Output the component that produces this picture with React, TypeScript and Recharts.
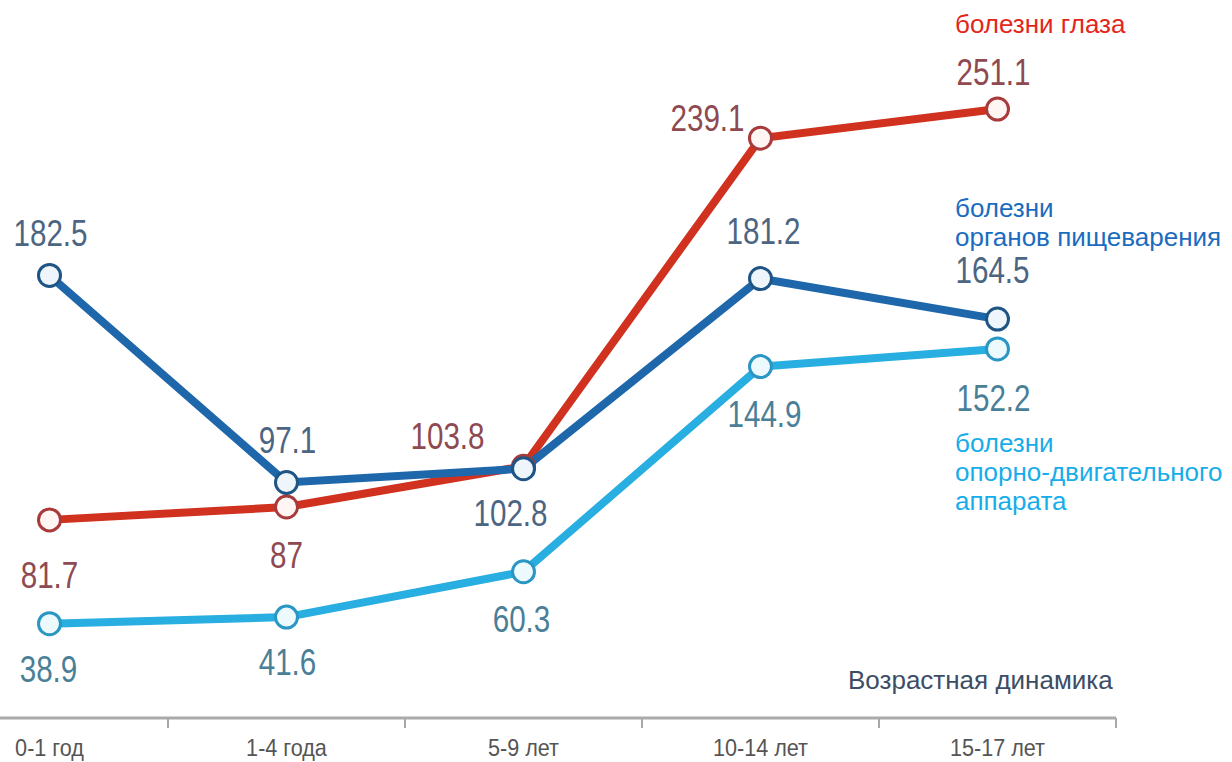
import { LineChart, Line, XAxis, YAxis, LabelList } from "recharts";

const AGE_GROUPS = ["0-1 год", "1-4 года", "5-9 лет", "10-14 лет", "15-17 лет"];
const EYE = [81.7, 87, 103.8, 239.1, 251.1];
const DIGESTIVE = [182.5, 97.1, 102.8, 181.2, 164.5];
const MUSCULO = [38.9, 41.6, 60.3, 144.9, 152.2];

// label offsets from the marker, [dx, dy] per point
const EYE_LABEL_POS = [[0, 55], [0, 48], [-76, -30], [-53, -20], [-4, -37]];
const DIGESTIVE_LABEL_POS = [[1, -42], [1, -42], [-13, 45], [3, -47], [-5, -49]];
const MUSCULO_LABEL_POS = [[-1, 46], [1, 45], [-2, 48], [4, 48], [-4, 49]];

const data = AGE_GROUPS.map((age, i) => ({
  age,
  eye: EYE[i],
  digestive: DIGESTIVE[i],
  musculo: MUSCULO[i],
}));

const FONT = '"Liberation Sans", Arial, sans-serif';
const BAND = 237;

// numbers in the original are set in a condensed face, so squeeze them
function makeLabel(offsets: number[][], color: string) {
  return (props: any) => {
    const { x, y, value, index } = props;
    const [dx, dy] = offsets[index] ?? [0, -40];
    return (
      <text
        transform={`translate(${x + dx},${y + dy}) scale(0.8,1)`}
        textAnchor="middle"
        dominantBaseline="central"
        fill={color}
        fontSize={37}
        fontFamily={FONT}
      >
        {value}
      </text>
    );
  };
}

function AgeTick(props: any) {
  const { x, y, payload } = props;
  return (
    <g>
      <line x1={x + BAND / 2} x2={x + BAND / 2} y1={y} y2={y + 10} stroke="#a8a8a8" strokeWidth={2} />
      <text
        transform={`translate(${x},${y + 30}) scale(0.9,1)`}
        textAnchor="middle"
        dominantBaseline="central"
        fill="#555"
        fontSize={24}
        fontFamily={FONT}
      >
        {payload.value}
      </text>
    </g>
  );
}

const nameStyle = {
  position: "absolute" as const,
  left: 955,
  fontFamily: FONT,
  fontSize: 26,
  lineHeight: "29px",
  whiteSpace: "nowrap" as const,
};

export default function App() {
  return (
    <div style={{ position: "fixed", left: 0, top: 0, width: 1232, height: 762, overflow: "hidden", background: "#fff" }}>
      <div style={{ position: "absolute", left: -69, top: 0 }}>
        <LineChart width={1301} height={762} data={data} margin={{ top: 39, right: 116, bottom: 0, left: 0 }}>
          <XAxis
            dataKey="age"
            scale="band"
            height={44}
            tickLine={false}
            tickSize={0}
            tickMargin={0}
            axisLine={{ stroke: "#aaaaaa", strokeWidth: 3 }}
            tick={<AgeTick />}
            interval={0}
          />
          <YAxis hide domain={[0, 280]} />
          <Line
            dataKey="eye"
            stroke="#d0321f"
            strokeWidth={8}
            dot={{ r: 11, fill: "#fff5f3", stroke: "#a83a3c", strokeWidth: 3 }}
            isAnimationActive={false}
          >
            <LabelList dataKey="eye" content={makeLabel(EYE_LABEL_POS, "#8e4a50")} />
          </Line>
          <Line
            dataKey="musculo"
            stroke="#28aee0"
            strokeWidth={8}
            dot={{ r: 11, fill: "#ecfafd", stroke: "#2a96c4", strokeWidth: 3 }}
            isAnimationActive={false}
          >
            <LabelList dataKey="musculo" content={makeLabel(MUSCULO_LABEL_POS, "#4a7f98")} />
          </Line>
          <Line
            dataKey="digestive"
            stroke="#1e67aa"
            strokeWidth={8}
            dot={{ r: 11, fill: "#eef6fb", stroke: "#1f5585", strokeWidth: 3 }}
            isAnimationActive={false}
          >
            <LabelList dataKey="digestive" content={makeLabel(DIGESTIVE_LABEL_POS, "#4c6582")} />
          </Line>
        </LineChart>
      </div>
      <div style={{ ...nameStyle, top: 10, color: "#e3261a" }}>болезни глаза</div>
      <div style={{ ...nameStyle, top: 194, color: "#1b6cbf" }}>
        болезни
        <br />
        органов пищеварения
      </div>
      <div style={{ ...nameStyle, top: 429, color: "#17adea" }}>
        болезни
        <br />
        опорно-двигательного
        <br />
        аппарата
      </div>
      <div style={{ ...nameStyle, left: 848, top: 666, color: "#3d4d66" }}>Возрастная динамика</div>
    </div>
  );
}
